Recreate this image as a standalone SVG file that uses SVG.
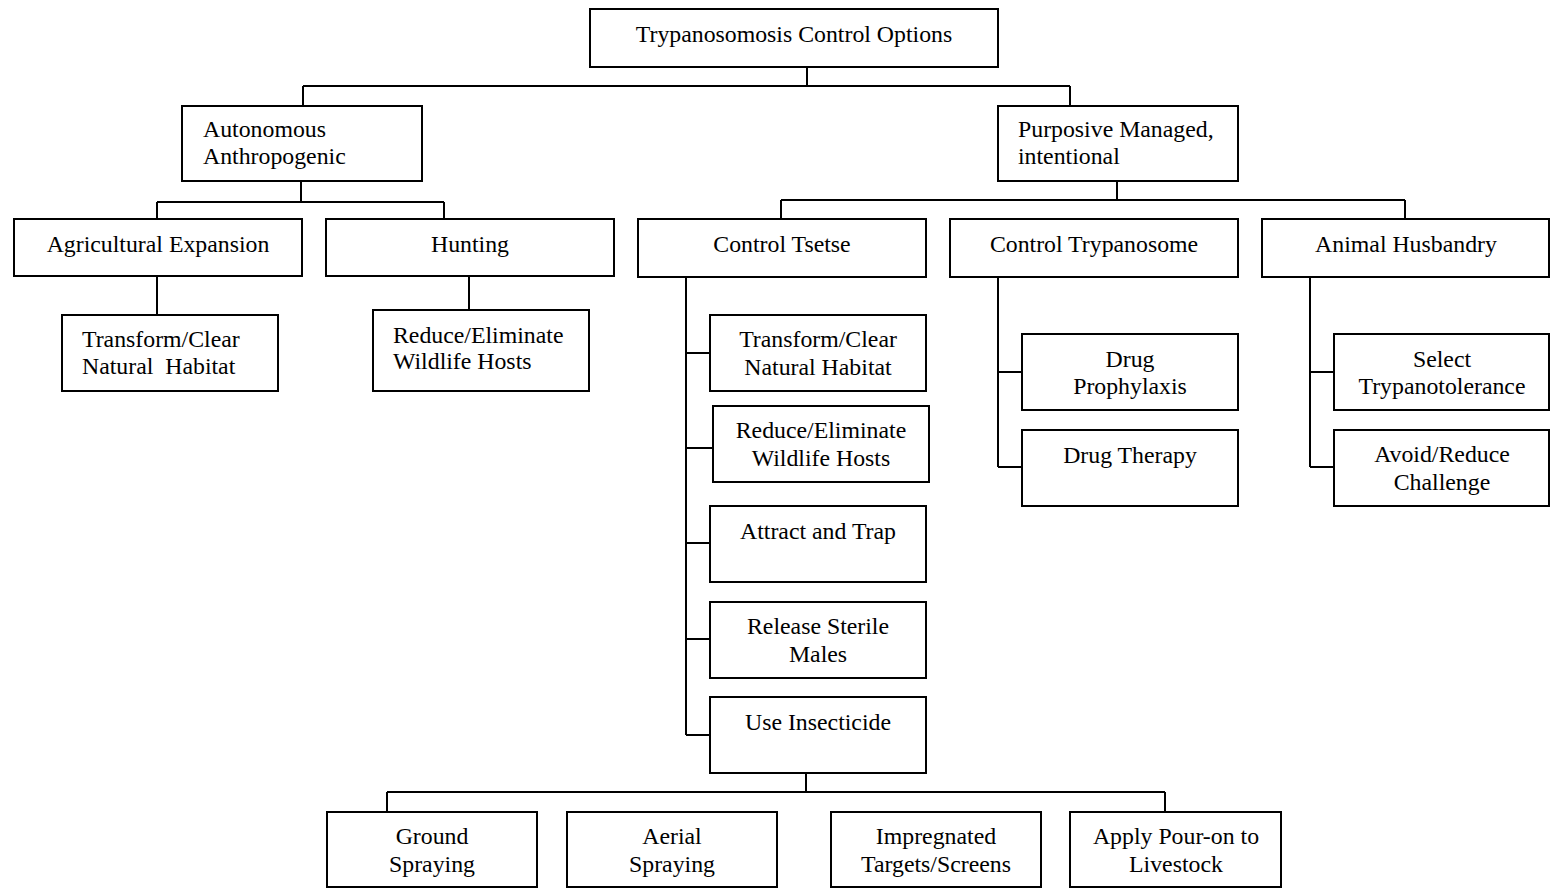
<svg xmlns="http://www.w3.org/2000/svg" width="1550" height="888" viewBox="0 0 1550 888">
<style>
rect{fill:#fff;stroke:#000;stroke-width:2}
.c path{fill:none;stroke:#000;stroke-width:2}
text{font-family:"Liberation Serif","Times New Roman",serif;font-size:23.8px;fill:#000}
.m{text-anchor:middle}
</style>
<rect x="0" y="0" width="1550" height="888" style="stroke:none"/>
<g class="c" id="connectors">
<path d="M807,67V86M303,86H1070M303,86V106M1070,86V106"/>
<path d="M301,181V202M157,202H444M157,202V219M444,202V219"/>
<path d="M157,276V314M469,276V310"/>
<path d="M1117,181V200M781,200H1405M781,200V219M1405,200V219"/>
<path d="M686,277V735M686,353H709M686,448H712M686,543H709M686,639H709M686,735H709"/>
<path d="M998,277V467M998,372H1022M998,467H1022"/>
<path d="M1310,277V467M1310,372H1334M1310,467H1334"/>
<path d="M806,773V792M387,792H1165M387,792V812M1165,792V812"/>
</g>
<g id="root"><rect x="590" y="9" width="408" height="58"/><text class="m" x="794" y="42">Trypanosomosis Control Options</text></g>
<g id="autonomous"><rect x="182" y="106" width="240" height="75"/><text x="203" y="137">Autonomous</text><text x="203" y="164">Anthropogenic</text></g>
<g id="purposive"><rect x="998" y="106" width="240" height="75"/><text x="1018" y="137">Purposive Managed,</text><text x="1018" y="164">intentional</text></g>
<g id="agri"><rect x="14" y="219" width="288" height="57"/><text class="m" x="158" y="252">Agricultural Expansion</text></g>
<g id="hunting"><rect x="326" y="219" width="288" height="57"/><text class="m" x="470" y="252">Hunting</text></g>
<g id="tsetse"><rect x="638" y="219" width="288" height="58"/><text class="m" x="782" y="252">Control Tsetse</text></g>
<g id="trypanosome"><rect x="950" y="219" width="288" height="58"/><text class="m" x="1094" y="252">Control Trypanosome</text></g>
<g id="husbandry"><rect x="1262" y="219" width="287" height="58"/><text class="m" x="1406" y="252">Animal Husbandry</text></g>
<g id="agri-clear"><rect x="62" y="315" width="216" height="76"/><text x="82" y="347" xml:space="preserve">Transform/Clear</text><text x="82" y="374" xml:space="preserve">Natural  Habitat</text></g>
<g id="hunt-reduce"><rect x="373" y="310" width="216" height="81"/><text x="393" y="343">Reduce/Eliminate</text><text x="393" y="369">Wildlife Hosts</text></g>
<g id="ts-clear"><rect x="710" y="315" width="216" height="76"/><text class="m" x="818" y="347">Transform/Clear</text><text class="m" x="818" y="375">Natural Habitat</text></g>
<g id="ts-reduce"><rect x="713" y="406" width="216" height="76"/><text class="m" x="821" y="438">Reduce/Eliminate</text><text class="m" x="821" y="466">Wildlife Hosts</text></g>
<g id="ts-attract"><rect x="710" y="506" width="216" height="76"/><text class="m" x="818" y="539">Attract and Trap</text></g>
<g id="ts-release"><rect x="710" y="602" width="216" height="76"/><text class="m" x="818" y="634">Release Sterile</text><text class="m" x="818" y="662">Males</text></g>
<g id="ts-insecticide"><rect x="710" y="697" width="216" height="76"/><text class="m" x="818" y="730">Use Insecticide</text></g>
<g id="prophylaxis"><rect x="1022" y="334" width="216" height="76"/><text class="m" x="1130" y="367">Drug</text><text class="m" x="1130" y="394">Prophylaxis</text></g>
<g id="therapy"><rect x="1022" y="430" width="216" height="76"/><text class="m" x="1130" y="463">Drug Therapy</text></g>
<g id="select"><rect x="1334" y="334" width="215" height="76"/><text class="m" x="1442" y="367">Select</text><text class="m" x="1442" y="394">Trypanotolerance</text></g>
<g id="avoid"><rect x="1334" y="430" width="215" height="76"/><text class="m" x="1442" y="462">Avoid/Reduce</text><text class="m" x="1442" y="490">Challenge</text></g>
<g id="ground"><rect x="327" y="812" width="210" height="75"/><text class="m" x="432" y="844">Ground</text><text class="m" x="432" y="872">Spraying</text></g>
<g id="aerial"><rect x="567" y="812" width="210" height="75"/><text class="m" x="672" y="844">Aerial</text><text class="m" x="672" y="872">Spraying</text></g>
<g id="impregnated"><rect x="831" y="812" width="210" height="75"/><text class="m" x="936" y="844">Impregnated</text><text class="m" x="936" y="872">Targets/Screens</text></g>
<g id="pouron"><rect x="1070" y="812" width="211" height="75"/><text class="m" x="1176" y="844">Apply Pour-on to</text><text class="m" x="1176" y="872">Livestock</text></g>
</svg>
